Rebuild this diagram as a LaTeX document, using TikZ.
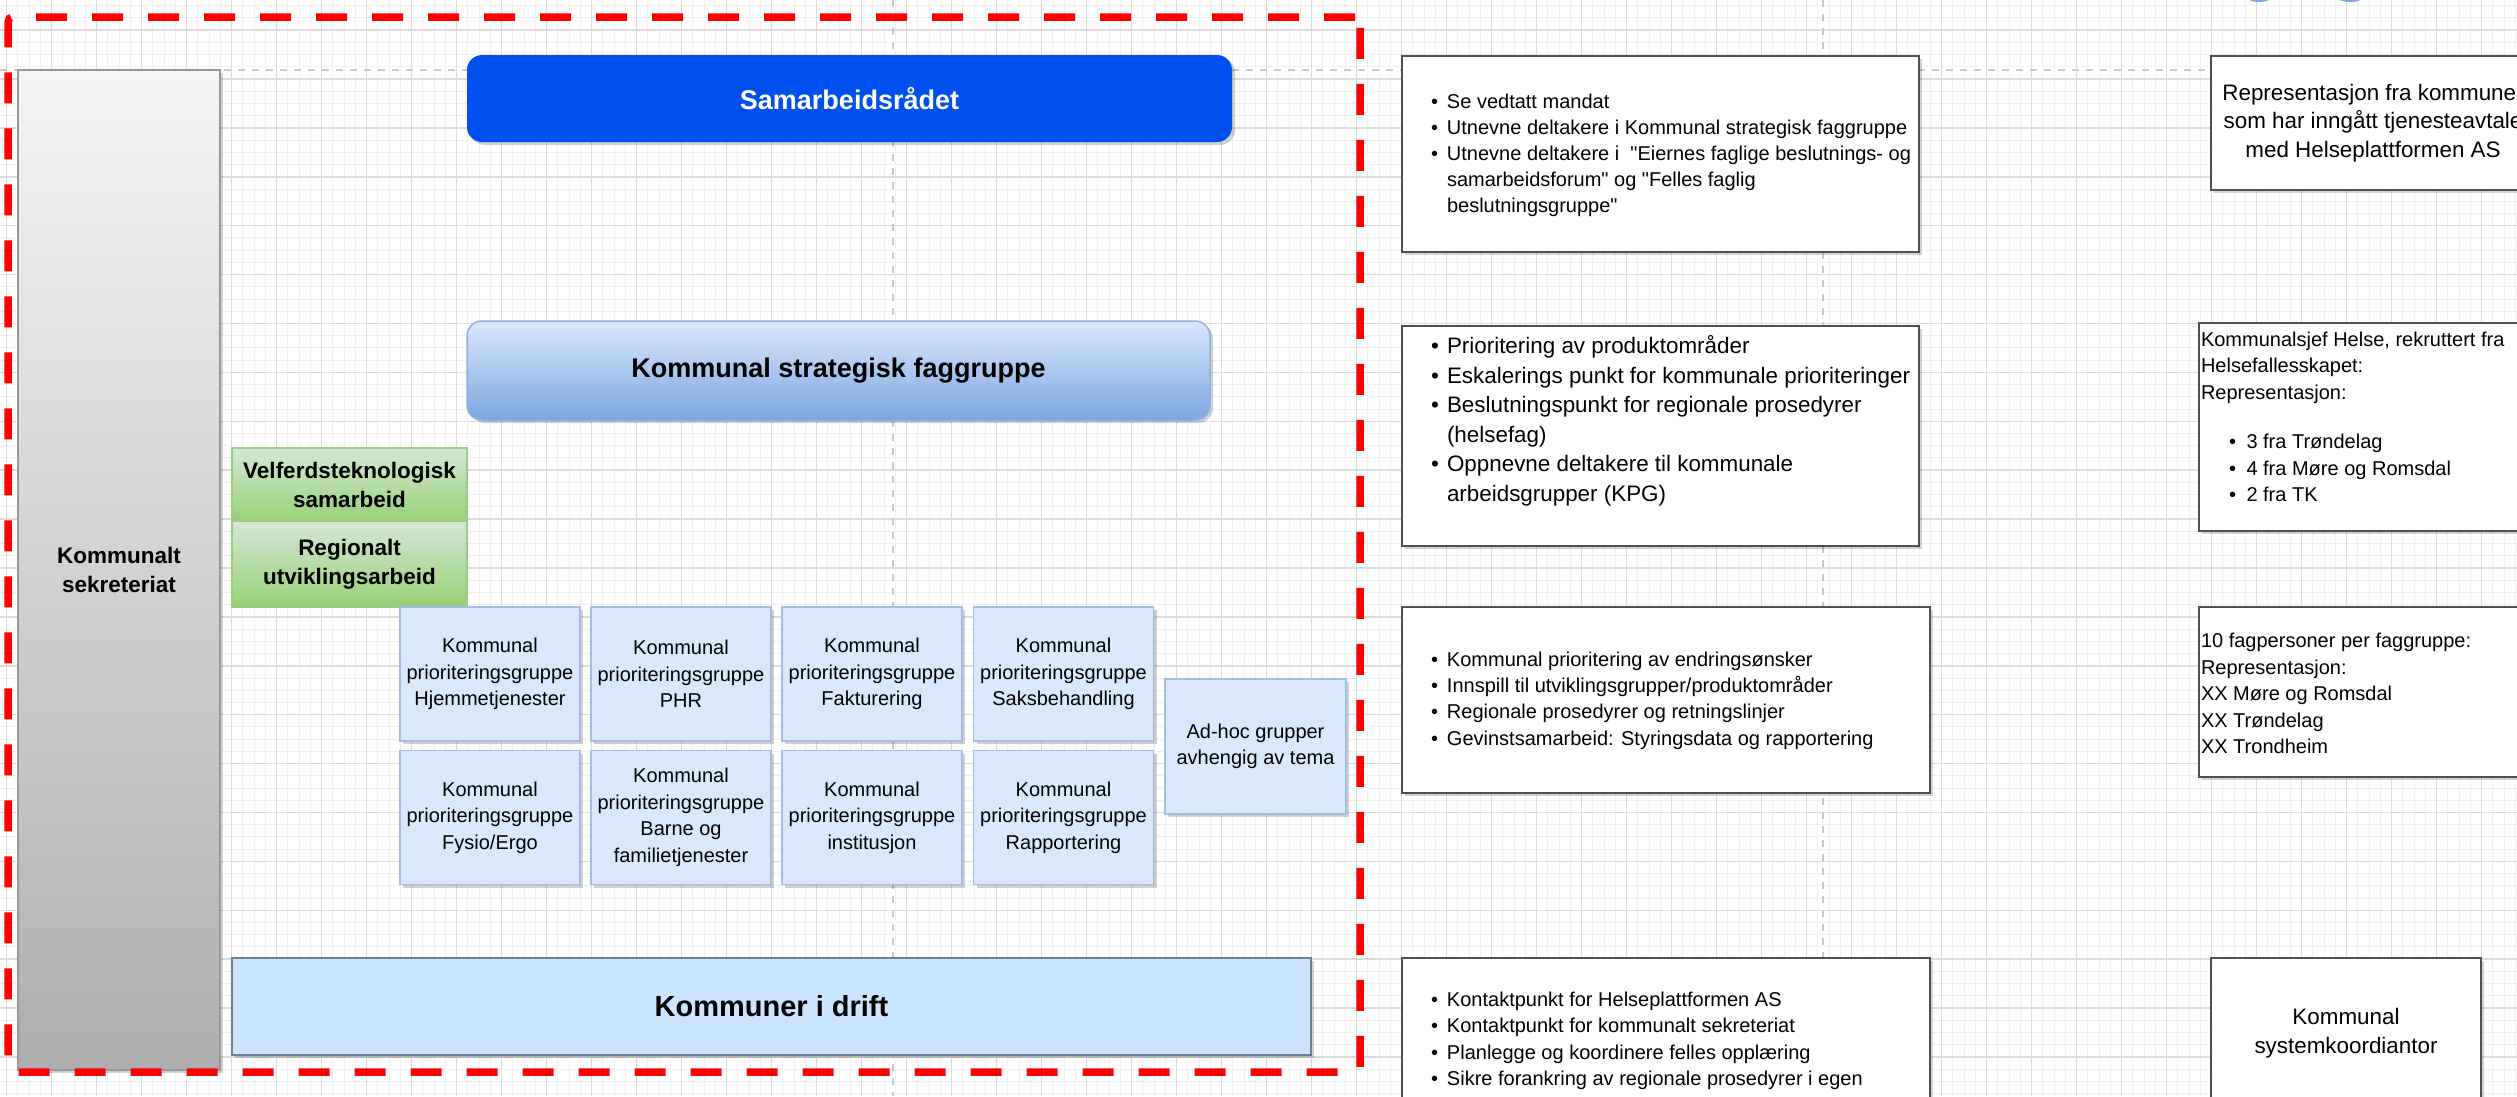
\documentclass[tikz,border=0pt]{standalone}
\usepackage{fontspec}
\setmainfont{Liberation Sans}[Ligatures=TeXOff]
\usetikzlibrary{shadows}
\definecolor{gridmin}{HTML}{F0F0F0}
\definecolor{gridmaj}{HTML}{DCDCDC}
\definecolor{pagebrk}{HTML}{C8C8C8}
\definecolor{sekTop}{HTML}{F5F5F5}
\definecolor{sekBot}{HTML}{AEAEAE}
\definecolor{sekLine}{HTML}{999999}
\definecolor{cobalt}{HTML}{0050EF}
\definecolor{ksfTop}{HTML}{DAE8FC}
\definecolor{ksfBot}{HTML}{7EA6E0}
\definecolor{ksfLine}{HTML}{8FB0E0}
\definecolor{grnTop}{HTML}{D5E8D4}
\definecolor{grnBot}{HTML}{97D077}
\definecolor{grnLine}{HTML}{9CCB85}
\definecolor{smFill}{HTML}{DAE8FC}
\definecolor{smLine}{HTML}{A3BDE6}
\definecolor{drFill}{HTML}{CCE5FF}
\definecolor{drLine}{HTML}{6F7F8F}
\definecolor{rbLine}{HTML}{505050}
\definecolor{frameRed}{HTML}{FF0000}
\definecolor{iconBlue}{HTML}{7EA6E0}
\newcommand\bul[1][16pt]{\makebox[#1][l]{•}}
\begin{document}
\begin{tikzpicture}[x=1pt,y=-1pt,
  every node/.style={font=\fontsize{20}{26.5}\selectfont, inner sep=0pt, outer sep=0pt},
  shadowed/.style={drop shadow={shadow xshift=3pt, shadow yshift=-3pt, fill=black, opacity=0.18}},
  gminor/.style={draw=gridmin, line width=1pt},
  gmajor/.style={draw=gridmaj, line width=1.5pt},
  pbreak/.style={draw=pagebrk, line width=2pt, dash pattern=on 7pt off 7pt},
  sekbox/.style={rectangle, draw=sekLine, line width=2pt, top color=sekTop, bottom color=sekBot, shadowed, align=center, font=\fontsize{22.5}{29}\selectfont\bfseries},
  sambox/.style={rectangle, rounded corners=15pt, fill=cobalt, text=white, shadowed, align=center, font=\fontsize{27}{32}\selectfont\bfseries},
  ksfbox/.style={rectangle, rounded corners=15pt, draw=ksfLine, line width=1.5pt, top color=ksfTop, bottom color=ksfBot, shadowed, align=center, font=\fontsize{27}{32}\selectfont\bfseries},
  grnbox/.style={rectangle, draw=grnLine, line width=1.5pt, top color=grnTop, bottom color=grnBot, align=center, font=\fontsize{22.5}{29}\selectfont\bfseries},
  smallbox/.style={rectangle, draw=smLine, fill=smFill, line width=1.5pt, shadowed, align=center, minimum width=180, minimum height=134},
  driftbox/.style={rectangle, draw=drLine, fill=drFill, line width=2pt, shadowed, align=center, font=\fontsize{29}{34}\selectfont\bfseries},
  rbox/.style={rectangle, draw=rbLine, fill=white, line width=2pt, shadowed, align=center},
  listtext/.style={anchor=west, align=left},
  framebox/.style={rectangle, draw=frameRed, line width=7.5pt, dash pattern=on 31pt off 25pt, rounded corners=5pt}
]
\useasboundingbox (0,0) rectangle (2517,1096);
\clip (0,0) rectangle (2517,1096);
\fill[white] (0,0) rectangle (2517,1096);
% grid
\foreach \i in {-1,...,224} \draw[gminor] ({6.7+11.25*\i},0) -- ({6.7+11.25*\i},1096);
\foreach \j in {-3,...,88} \draw[gminor] (0,{30.1+12.225*\j}) -- (2517,{30.1+12.225*\j});
\foreach \i in {0,...,56} \draw[gmajor] ({6.7+45*\i},0) -- ({6.7+45*\i},1096);
\foreach \j in {-1,...,22} \draw[gmajor] (0,{30.1+48.9*\j}) -- (2517,{30.1+48.9*\j});
% page breaks
\draw[pbreak] (893,0) -- (893,1096);
\draw[pbreak] (1823,0) -- (1823,1096);
\draw[pbreak] (0,70) -- (2517,70);
% partial icons at top edge
\fill[iconBlue] (2259,-2) ellipse [x radius=11, y radius=4];
\fill[iconBlue] (2350,-2) ellipse [x radius=12, y radius=4];

% left area
\node[sekbox, minimum width=202, minimum height=1000] (sek) at (119,570) {Kommunalt\\sekreteriat};
\node[sambox, minimum width=765, minimum height=87] (sam) at (849.5,98.5) {Samarbeidsrådet};
\node[ksfbox, minimum width=743, minimum height=99] (ksf) at (838.5,370.5) {Kommunal strategisk faggruppe};
\node[grnbox, minimum width=235, minimum height=74] (velf) at (349.5,485) {Velferdsteknologisk\\samarbeid};
\node[grnbox, minimum width=235, minimum height=86] (reg) at (349.5,564) {Regionalt\\utviklingsarbeid};

\node[smallbox] (p1) at (490,674) {Kommunal\\prioriteringsgruppe\\Hjemmetjenester};
\node[smallbox] (p2) at (681,674) {Kommunal\\prioriteringsgruppe\\PHR};
\node[smallbox] (p3) at (872,674) {Kommunal\\prioriteringsgruppe\\Fakturering};
\node[smallbox] (p4) at (1063.5,674) {Kommunal\\prioriteringsgruppe\\Saksbehandling};
\node[smallbox] (p5) at (490,817.5) {Kommunal\\prioriteringsgruppe\\Fysio/Ergo};
\node[smallbox] (p6) at (681,817.5) {Kommunal\\prioriteringsgruppe\\Barne og\\familietjenester};
\node[smallbox] (p7) at (872,817.5) {Kommunal\\prioriteringsgruppe\\institusjon};
\node[smallbox] (p8) at (1063.5,817.5) {Kommunal\\prioriteringsgruppe\\Rapportering};
\node[smallbox, minimum width=181, minimum height=135] (adhoc) at (1255.5,746.5) {Ad-hoc grupper\\avhengig av tema};

\node[driftbox, minimum width=1079, minimum height=97] (drift) at (771.5,1006.5) {Kommuner i drift};

% right area boxes
\node[rbox, minimum width=517, minimum height=196] (A) at (1660.5,154) {};
\node[rbox, minimum width=517, minimum height=220] (B) at (1660.5,436) {};
\node[rbox, minimum width=528, minimum height=186] (C) at (1666,700) {};
\node[rbox, minimum width=528, minimum height=162] (D) at (1666,1039) {};
\node[rbox, minimum width=324, minimum height=134, font=\fontsize{22.4}{28.5}\selectfont] (R1) at (2373,123) {Representasjon fra kommuner\\som har inngått tjenesteavtale\\med Helseplattformen AS};
\node[rbox, minimum width=341, minimum height=208] (R2) at (2369.5,427) {};
\node[rbox, minimum width=341, minimum height=170] (R3) at (2369.5,692) {};
\node[rbox, minimum width=270, minimum height=162] (R4) at (2346,1039) {};
\node[font=\fontsize{22.4}{29}\selectfont, align=center] (R4t) at (R4.center) [yshift=5.5pt] {Kommunal\\systemkoordiantor};

% list texts
\node[listtext, font=\fontsize{20}{26}\selectfont] (At) at (1431,155.3) {%
\bul Se vedtatt mandat\\
\bul Utnevne deltakere i Kommunal strategisk faggruppe\\
\bul Utnevne deltakere i \ "Eiernes faglige beslutnings- og\\
\hspace*{16pt}samarbeidsforum" og "Felles faglig\\
\hspace*{16pt}beslutningsgruppe"};
\node[listtext, font=\fontsize{22.4}{29.5}\selectfont] (Bt) at (1431,421) {%
\bul Prioritering av produktområder\\
\bul Eskalerings punkt for kommunale prioriteringer\\
\bul Beslutningspunkt for regionale prosedyrer\\
\hspace*{16pt}(helsefag)\\
\bul Oppnevne deltakere til kommunale\\
\hspace*{16pt}arbeidsgrupper (KPG)};
\node[listtext, font=\fontsize{20}{26.3}\selectfont] (Ct) at (1431,700.6) {%
\bul Kommunal prioritering av endringsønsker\\
\bul Innspill til utviklingsgrupper/produktområder\\
\bul Regionale prosedyrer og retningslinjer\\
\bul Gevinstsamarbeid: Styringsdata og rapportering};
\node[listtext, font=\fontsize{20}{26.5}\selectfont] (Dt) at (1431,1052) {%
\bul Kontaktpunkt for Helseplattformen AS\\
\bul Kontaktpunkt for kommunalt sekreteriat\\
\bul Planlegge og koordinere felles opplæring\\
\bul Sikre forankring av regionale prosedyrer i egen\\
\hspace*{16pt}kommune};
\node[listtext] (R2t) at (2201,367.5) {%
Kommunalsjef Helse, rekruttert fra\\
Helsefallesskapet:\\
Representasjon:};
\node[listtext] (R2b) at (2229,468) {%
\bul[17.5pt]3 fra Trøndelag\\
\bul[17.5pt]4 fra Møre og Romsdal\\
\bul[17.5pt]2 fra TK};
\node[listtext] (R3t) at (2201,693.6) {%
10 fagpersoner per faggruppe:\\
Representasjon:\\
XX Møre og Romsdal\\
XX Trøndelag\\
XX Trondheim};

% red dashed frame
\node[framebox, minimum width=1352, minimum height=1055] (frame) at (684,544.5) {};
\end{tikzpicture}
\end{document}
